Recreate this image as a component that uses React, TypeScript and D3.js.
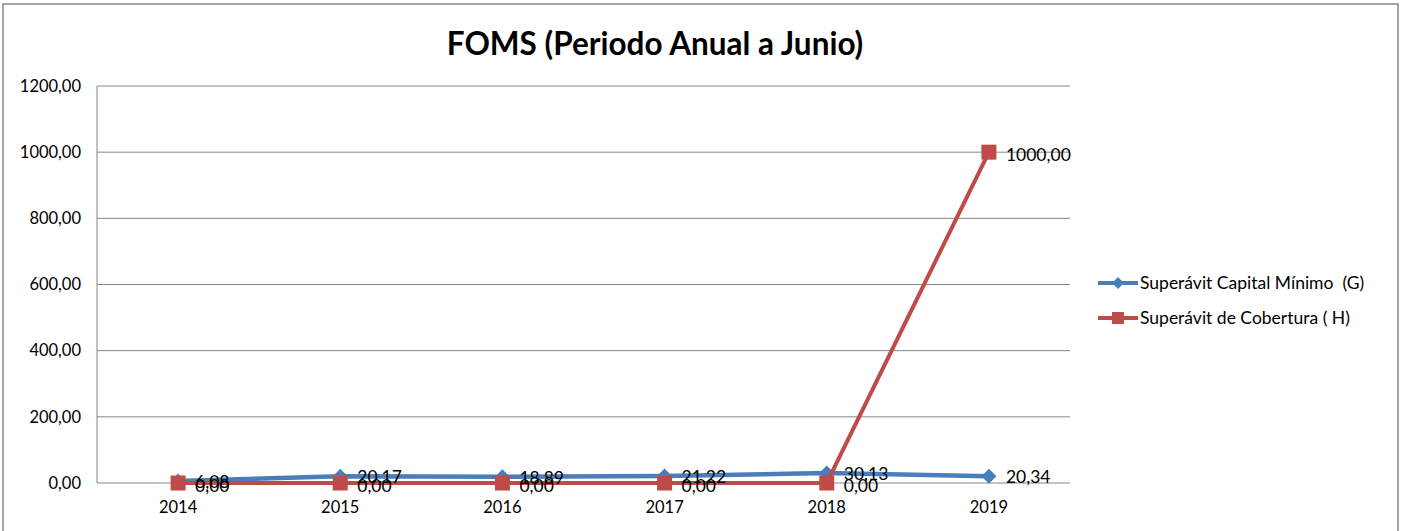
import React from "react";
import * as d3 from "d3";

const categories = ["2014", "2015", "2016", "2017", "2018", "2019"];
const capitalMinimo = [6.08, 20.17, 18.89, 21.22, 30.13, 20.34];
const cobertura = [0, 0, 0, 0, 0, 1000];
const yTicks = [0, 200, 400, 600, 800, 1000, 1200];
const seriesNames = ["Superávit Capital Mínimo  (G)", "Superávit de Cobertura ( H)"];

const W = 1403;
const H = 531;
const FONT = "Lato, 'Open Sans', sans-serif";
const BLUE = "#4a7ebb";
const RED = "#be4b48";

const fmt = (v: number) => v.toFixed(2).replace(".", ",");

export default function App() {
  const x = d3.scalePoint<string>().domain(categories).range([97, 1070]).padding(0.5);
  const y = d3.scaleLinear().domain([0, 1200]).range([483, 86]);
  const line = d3
    .line<number>()
    .x((_, i) => x(categories[i]) as number)
    .y((d) => y(d));

  const diamond = (cx: number, cy: number, r: number) =>
    `M${cx},${cy - r}L${cx + r},${cy}L${cx},${cy + r}L${cx - r},${cy}Z`;

  return (
    <svg width={W} height={H} style={{ position: "absolute", left: 0, top: 0 }} fontFamily={FONT}>
      <rect x={0} y={0} width={W} height={H} fill="#fff" />
      <rect x={3} y={4} width={1395} height={540} fill="none" stroke="#868686" strokeWidth={1.5} />
      <text x={655} y={55} textAnchor="middle" fontSize={31.5} fontWeight="bold" fill="#000">
        FOMS (Periodo Anual a Junio)
      </text>
      {yTicks.map((t) => (
        <g key={t}>
          <line x1={97} x2={1070} y1={y(t)} y2={y(t)} stroke="#868686" strokeWidth={1} />
          <text x={81} y={y(t)} dy="0.35em" textAnchor="end" fontSize={16.5} fill="#000">
            {fmt(t)}
          </text>
        </g>
      ))}
      <line x1={97} x2={97} y1={86} y2={483} stroke="#868686" strokeWidth={1} />
      {categories.map((c) => (
        <text key={c} x={x(c)} y={513} textAnchor="middle" fontSize={16.5} fill="#000">
          {c}
        </text>
      ))}
      <path d={line(capitalMinimo) as string} fill="none" stroke={BLUE} strokeWidth={4.5} />
      {capitalMinimo.map((v, i) => (
        <path key={i} d={diamond(x(categories[i]) as number, y(v), 7.5)} fill={BLUE} />
      ))}
      <path d={line(cobertura) as string} fill="none" stroke={RED} strokeWidth={4} />
      {cobertura.map((v, i) => (
        <rect key={i} x={(x(categories[i]) as number) - 7.5} y={y(v) - 7.5} width={15} height={15} fill={RED} />
      ))}
      {capitalMinimo.map((v, i) => (
        <text key={i} x={(x(categories[i]) as number) + 17} y={y(v) + 1} dy="0.35em" fontSize={17.5} fill="#000">
          {fmt(v)}
        </text>
      ))}
      {cobertura.map((v, i) => (
        <text key={i} x={(x(categories[i]) as number) + 17} y={y(v) + 3} dy="0.35em" fontSize={17.5} fill="#000">
          {fmt(v)}
        </text>
      ))}
      <g>
        <line x1={1098} x2={1138} y1={283} y2={283} stroke={BLUE} strokeWidth={4} />
        <path d={diamond(1118, 283, 6)} fill={BLUE} />
        <text x={1140} y={283} dy="0.35em" fontSize={17.5} fill="#000" style={{ whiteSpace: "pre" }}>
          {seriesNames[0]}
        </text>
        <line x1={1098} x2={1138} y1={318} y2={318} stroke={RED} strokeWidth={4} />
        <rect x={1112} y={312} width={12} height={12} fill={RED} />
        <text x={1140} y={318} dy="0.35em" fontSize={17.5} fill="#000" style={{ whiteSpace: "pre" }}>
          {seriesNames[1]}
        </text>
      </g>
    </svg>
  );
}
